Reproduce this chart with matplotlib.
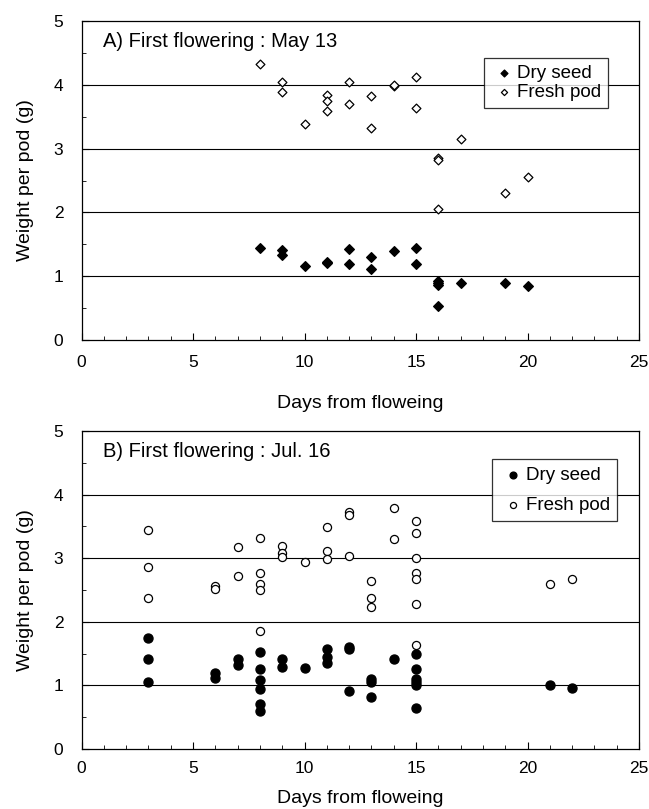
import numpy as np
import matplotlib
matplotlib.use("Agg")
import matplotlib.pyplot as plt
from matplotlib.ticker import MultipleLocator

plt.rcParams['font.family'] = ['Liberation Sans', 'DejaVu Sans']

# Panel A: first flowering May 13
a_fresh_day = [8, 9, 9, 10, 11, 11, 11, 12, 12, 13, 13, 14, 14, 15, 15, 16, 16, 16, 17, 19, 20]
a_fresh_wt = [4.32, 4.04, 3.88, 3.39, 3.84, 3.75, 3.59, 4.05, 3.70, 3.83, 3.32, 3.98, 4.00,
              4.12, 3.63, 2.85, 2.82, 2.05, 3.15, 2.31, 2.55]
a_dry_day = [8, 9, 9, 10, 11, 11, 12, 12, 13, 13, 14, 15, 15, 16, 16, 16, 16, 17, 19, 20]
a_dry_wt = [1.45, 1.41, 1.33, 1.16, 1.23, 1.20, 1.43, 1.19, 1.30, 1.11, 1.39, 1.45, 1.19,
            0.92, 0.90, 0.86, 0.54, 0.89, 0.90, 0.85]

# Panel B: first flowering Jul. 16
b_fresh_day = [3, 3, 3, 6, 6, 7, 7, 8, 8, 8, 8, 8, 9, 9, 9, 10, 11, 11, 11, 12, 12, 12,
               13, 13, 13, 14, 14, 15, 15, 15, 15, 15, 15, 15, 21, 22]
b_fresh_wt = [3.44, 2.86, 2.38, 2.56, 2.51, 3.17, 2.72, 3.31, 2.77, 2.60, 2.50, 1.85,
              3.19, 3.08, 3.02, 2.94, 3.49, 3.11, 2.99, 3.73, 3.68, 3.03,
              2.64, 2.38, 2.24, 3.79, 3.30, 3.58, 3.39, 3.00, 2.76, 2.67, 2.28, 1.64,
              2.59, 2.67]
b_dry_day = [3, 3, 3, 6, 6, 7, 7, 8, 8, 8, 8, 8, 8, 9, 9, 10, 11, 11, 11, 12, 12, 12,
             13, 13, 13, 14, 15, 15, 15, 15, 15, 15, 21, 22]
b_dry_wt = [1.74, 1.41, 1.06, 1.19, 1.11, 1.42, 1.32, 1.52, 1.26, 1.08, 0.94, 0.71, 0.59,
            1.42, 1.29, 1.27, 1.57, 1.45, 1.35, 1.61, 1.57, 0.91,
            1.10, 1.05, 0.81, 1.42, 1.49, 1.26, 1.10, 1.05, 1.00, 0.65, 1.00, 0.96]

fig = plt.figure(figsize=(6.49, 8.09), dpi=100)
axA = fig.add_axes([0.1256, 0.5797, 0.859, 0.3943])
axB = fig.add_axes([0.1256, 0.0742, 0.859, 0.3930])


def style_axis(ax, title, xpad, xlabelpad):
    ax.set_xlim(0, 25)
    ax.set_ylim(0, 5)
    ax.xaxis.set_major_locator(MultipleLocator(5))
    ax.xaxis.set_minor_locator(MultipleLocator(1))
    ax.yaxis.set_major_locator(MultipleLocator(1))
    ax.yaxis.set_minor_locator(MultipleLocator(0.5))
    ax.tick_params(axis='both', which='both', direction='in', labelsize=12.5)
    ax.tick_params(axis='x', which='major', length=5, width=0.8, pad=xpad)
    ax.tick_params(axis='y', which='major', length=5, width=0.8, pad=13)
    ax.tick_params(axis='both', which='minor', length=3, width=0.6)
    for y in [1, 2, 3, 4]:
        ax.axhline(y, color='black', lw=0.8, zorder=1)
    for s in ax.spines.values():
        s.set_linewidth(0.9)
    ax.set_xlabel('Days from floweing', fontsize=14, labelpad=xlabelpad)
    ax.set_ylabel('Weight per pod (g)', fontsize=14, labelpad=14)
    ax.text(0.039, 0.965, title, transform=ax.transAxes, fontsize=14.5,
            ha='left', va='top')


style_axis(axA, 'A) First flowering : May 13', 11, 18)
axA.scatter(a_dry_day, a_dry_wt, marker='D', s=24, color='black', zorder=3,
            label='Dry seed')
axA.scatter(a_fresh_day, a_fresh_wt, marker='D', s=20, facecolor='white',
            edgecolor='black', linewidth=0.9, zorder=3, label='Fresh pod')
legA = axA.legend(loc='upper right', bbox_to_anchor=(0.944, 0.884), fontsize=13.5,
                  frameon=True, fancybox=False, handletextpad=0.0,
                  handlelength=1.4, borderpad=0.35, labelspacing=0.12,
                  markerscale=0.7, borderaxespad=0)
legA.get_frame().set_edgecolor('black')
legA.get_frame().set_linewidth(0.9)

style_axis(axB, 'B) First flowering : Jul. 16', 9, 10)
axB.scatter(b_dry_day, b_dry_wt, marker='o', s=42, color='black', zorder=3,
            label='Dry seed')
axB.scatter(b_fresh_day, b_fresh_wt, marker='o', s=34, facecolor='white',
            edgecolor='black', linewidth=0.9, zorder=3, label='Fresh pod')
legB = axB.legend(loc='upper right', bbox_to_anchor=(0.961, 0.912), fontsize=13.5,
                  frameon=True, fancybox=False, handletextpad=0.0,
                  handlelength=1.4, borderpad=0.4, labelspacing=0.7,
                  markerscale=0.75, borderaxespad=0)
legB.get_frame().set_edgecolor('black')
legB.get_frame().set_linewidth(0.9)

fig.savefig('out.png', dpi=100)
